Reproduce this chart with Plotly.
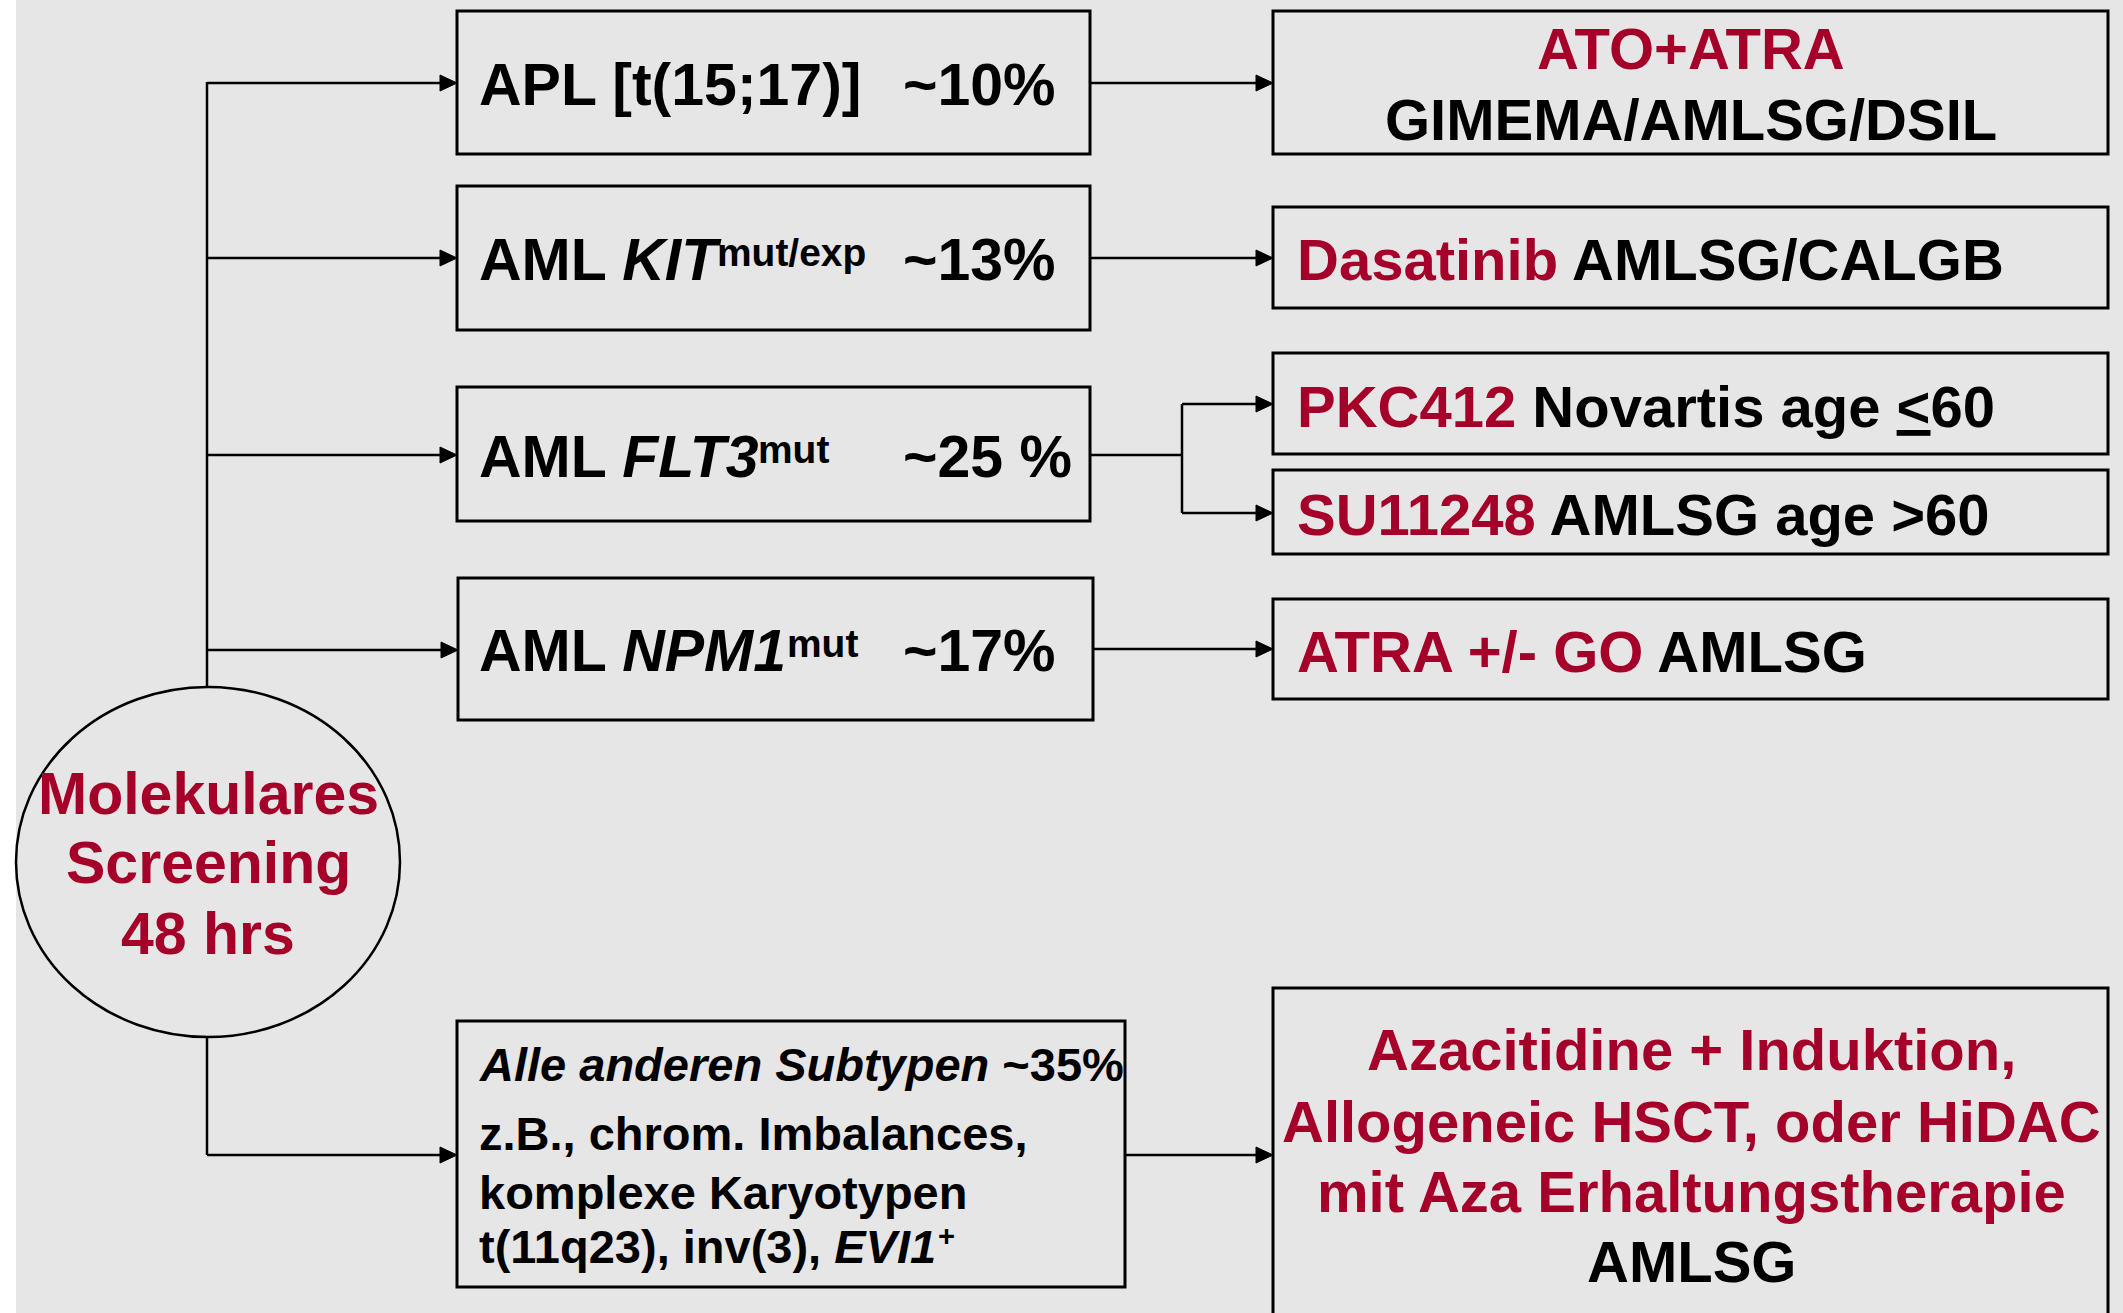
import plotly.graph_objects as go

# ---------------- data (labels) ----------------
screening_lines = ["Molekulares", "Screening", "48 hrs"]
subtype_labels = [
    "APL [t(15;17)]",
    "AML <i>KIT</i>",
    "AML <i>FLT3</i>",
    "AML <i>NPM1</i>",
]
subtype_sups = ["", "mut/exp", "mut", "mut"]
subtype_shares = ["~10%", "~13%", "~25 %", "~17%"]
other_lines = [
    "<i>Alle anderen Subtypen</i> ~35%",
    "z.B., chrom. Imbalances,",
    "komplexe Karyotypen",
    "t(11q23), inv(3), <i>EVI1</i>",
]
other_sup = "+"
apl_therapy = ["ATO+ATRA", "GIMEMA/AMLSG/DSIL"]
therapy_drugs = ["Dasatinib", "PKC412", "SU11248", "ATRA +/- GO"]
therapy_groups = ["AMLSG/CALGB", "Novartis age <u>&lt;</u>60", "AMLSG age &gt;60", "AMLSG"]
other_therapy = [
    "Azacitidine + Induktion,",
    "Allogeneic HSCT, oder HiDAC",
    "mit Aza Erhaltungstherapie",
    "AMLSG",
]

# ---------------- style ----------------
RED = "#a5002a"
BLACK = "#000000"
BG = "#e6e6e6"
FONT = "Liberation Sans, Arial, sans-serif"
W, H = 2123, 1313

shapes = []
annotations = []


def text(x, yc, s, size, color, xanchor="left"):
    annotations.append(dict(
        x=x, y=yc + 0.57 * size, xref="x", yref="y", text=s, showarrow=False,
        xanchor=xanchor, yanchor="bottom", borderpad=0, borderwidth=0,
        font=dict(family=FONT, size=size, color=color, weight="bold"),
    ))


def sup(x, yc, s, main_size, shift, scale, color=BLACK):
    size = main_size * scale
    baseline = yc + 0.358 * main_size - shift * main_size
    annotations.append(dict(
        x=x, y=baseline + 0.212 * size, xref="x", yref="y", text=s, showarrow=False,
        xanchor="left", yanchor="bottom", borderpad=0, borderwidth=0,
        font=dict(family=FONT, size=size, color=color, weight="bold"),
    ))


def box(x0, y0, x1, y1, width=3):
    shapes.append(dict(type="rect", x0=x0, y0=y0, x1=x1, y1=y1, xref="x", yref="y",
                       line=dict(color=BLACK, width=width), fillcolor="rgba(0,0,0,0)"))


def seg(x0, y0, x1, y1, width=2.5):
    shapes.append(dict(type="line", x0=x0, y0=y0, x1=x1, y1=y1, xref="x", yref="y",
                       line=dict(color=BLACK, width=width)))


def arrow(x0, y, x1):
    seg(x0, y, x1 - 12, y)
    shapes.append(dict(type="path", xref="x", yref="y",
                       path=f"M {x1} {y} L {x1-17} {y-8} L {x1-17} {y+8} Z",
                       fillcolor=BLACK, line=dict(color=BLACK, width=1)))


# white strip on the left
shapes.append(dict(type="rect", x0=0, x1=16, y0=0, y1=H, xref="x", yref="y",
                   fillcolor="white", line=dict(width=0), layer="below"))

# ellipse
shapes.append(dict(type="circle", x0=16, x1=400, y0=687, y1=1037, xref="x", yref="y",
                   line=dict(color=BLACK, width=2.5), fillcolor="rgba(0,0,0,0)"))
for line, yc in zip(screening_lines, [793, 862, 933]):
    text(208, yc, line, 59, RED, "center")

# trunk
seg(207, 82, 207, 687)
seg(207, 1037, 207, 1155)

# subtype boxes
sub_boxes = [(457, 11, 1090, 154), (457, 186, 1090, 330), (457, 387, 1090, 521), (458, 578, 1093, 720)]
sub_y = [83, 258, 455, 650]
sub_text_y = [84, 259, 456, 650]
sup_x = [0, 717, 758, 787]
for (bx0, by0, bx1, by1), ya, yt, lab, sp, sx, share in zip(
        sub_boxes, sub_y, sub_text_y, subtype_labels, subtype_sups, sup_x, subtype_shares):
    box(bx0, by0, bx1, by1)
    arrow(207, ya, bx0)
    text(479, yt, lab, 59, BLACK)
    if sp:
        sup(sx, yt, sp, 59, 0.25, 0.66)
    text(903, yt, share, 59, BLACK)

# other subtypes box
box(457, 1021, 1125, 1287)
arrow(207, 1155, 457)
for line, yc in zip(other_lines, [1064, 1133, 1192, 1246]):
    text(479, yc, line, 47, BLACK)
sup(938, 1246, other_sup, 47, 0.36, 0.62)

# therapy boxes
RX0, RX1 = 1273, 2108
box(RX0, 11, RX1, 154)
arrow(1090, 83, RX0)
text(1691, 48, apl_therapy[0], 58, RED, "center")
text(1691, 119, apl_therapy[1], 58, BLACK, "center")

ther_boxes = [(207, 308), (353, 454), (470, 554), (599, 699)]
ther_text_y = [259, 406, 514, 651]
for (by0, by1), yt, drug, grp in zip(ther_boxes, ther_text_y, therapy_drugs, therapy_groups):
    box(RX0, by0, RX1, by1)
    text(1297, yt, f'<span style="color:{RED}">{drug}</span> {grp}', 58, BLACK)

arrow(1090, 258, RX0)
seg(1090, 455, 1182, 455)
seg(1182, 404, 1182, 513)
arrow(1182, 404, RX0)
arrow(1182, 513, RX0)
arrow(1093, 649, RX0)

# bottom-right box (open at the bottom edge)
shapes.append(dict(type="path", xref="x", yref="y",
                   path=f"M {RX0} {H+10} L {RX0} 988 L {RX1} 988 L {RX1} {H+10}",
                   line=dict(color=BLACK, width=3)))
arrow(1125, 1155, RX0)
for i, (line, yc) in enumerate(zip(other_therapy, [1049, 1121, 1191, 1261])):
    text(1691, yc, line, 58, RED if i < 3 else BLACK, "center")

fig = go.Figure()
fig.update_layout(
    width=W, height=H, margin=dict(l=0, r=0, t=0, b=0),
    paper_bgcolor=BG, plot_bgcolor=BG,
    xaxis=dict(range=[0, W], visible=False, fixedrange=True),
    yaxis=dict(range=[H, 0], visible=False, fixedrange=True),
    shapes=shapes, annotations=annotations, showlegend=False,
)
fig.write_html(
    "out.html",
    config={"displayModeBar": False},
    post_script="document.body.style.margin='0';document.body.style.overflow='hidden';",
)
